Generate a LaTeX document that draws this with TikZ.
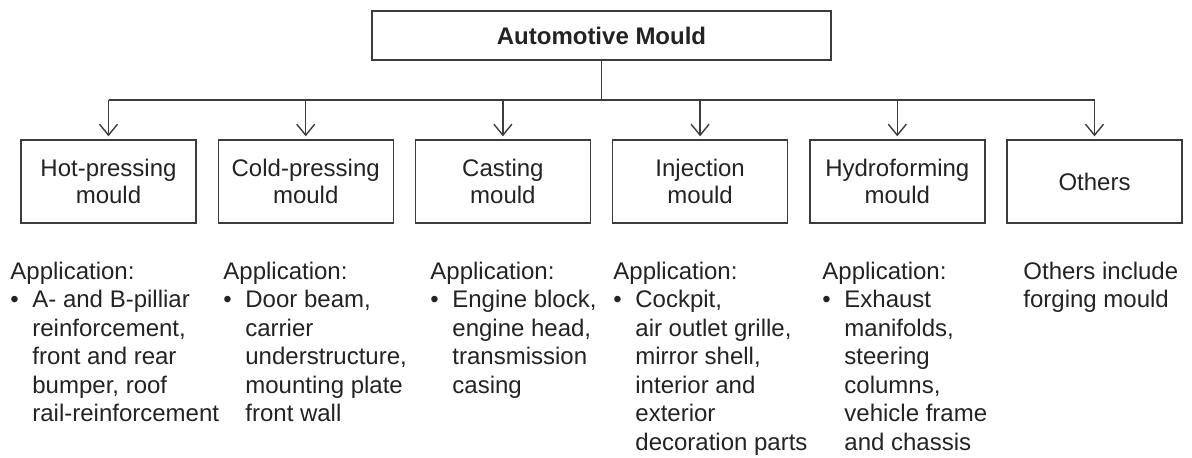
\documentclass[tikz,border=0pt]{standalone}
\usepackage{fontspec}
\setmainfont{Liberation Sans}
\usepackage{tikz}
\usetikzlibrary{positioning,arrows.meta,calc}
\definecolor{linegray}{RGB}{60,60,60}
\definecolor{inkgray}{RGB}{35,35,35}
\newcommand{\appitem}{\makebox[11pt][l]{\textbullet}}
\tikzset{
  basic/.style  = {draw=linegray, line width=0.7pt, rectangle, text=inkgray,
                   align=center, inner sep=0pt, font=\fontsize{12}{13.7}\selectfont},
  root/.style   = {basic, minimum width=229.5pt, minimum height=24.5pt,
                   font=\fontsize{12}{13.7}\selectfont\bfseries},
  mould/.style  = {basic, minimum width=87.5pt, minimum height=41.5pt},
  note/.style   = {anchor=north west, inner sep=0pt, text=inkgray,
                   font=\fontsize{12}{14.25}\selectfont},
  link/.style   = {draw=linegray, line width=0.7pt},
  edge/.style   = {link, -{Straight Barb[length=5.5pt,width=9pt]}, shorten >=1.5pt}
}
\begin{document}
\begin{tikzpicture}[x=0.5pt,y=-0.5pt]
    \useasboundingbox (0,0) rectangle (1192,458);
    \node[root] (auto) at (601.5,35.5) {Automotive Mould};
    \node[mould] (hot)   at (108.5,181.5) {Hot-pressing\\mould};
    \node[mould] (cold)  at (305.7,181.5) {Cold-pressing\\mould};
    \node[mould] (cast)  at (502.9,181.5) {Casting\\mould};
    \node[mould] (inj)   at (700.1,181.5) {Injection\\mould};
    \node[mould] (hydro) at (897.3,181.5) {Hydroforming\\mould};
    \node[mould] (other) at (1094.5,181.5) {Others};
    \coordinate (bus) at (601.5,100);
    \draw[link] (auto.south) -- (bus);
    \draw[link] (hot.north |- bus) -- (other.north |- bus);
    \foreach \m in {hot,cold,cast,inj,hydro,other}
        \draw[edge] (\m.north |- bus) -- (\m.north);
    \node[note] (hotnote) at (10,259) {\begin{tabular}{@{}l@{}l@{}}
        \multicolumn{2}{@{}l@{}}{Application:}\\
        \appitem & A- and B-pilliar\\
        & reinforcement,\\
        & front and rear\\
        & bumper, roof\\
        & rail-reinforcement
    \end{tabular}};
    \node[note] (coldnote) at (223,259) {\begin{tabular}{@{}l@{}l@{}}
        \multicolumn{2}{@{}l@{}}{Application:}\\
        \appitem & Door beam,\\
        & carrier\\
        & understructure,\\
        & mounting plate\\
        & front wall
    \end{tabular}};
    \node[note] (castnote) at (430,259) {\begin{tabular}{@{}l@{}l@{}}
        \multicolumn{2}{@{}l@{}}{Application:}\\
        \appitem & Engine block,\\
        & engine head,\\
        & transmission\\
        & casing
    \end{tabular}};
    \node[note] (injnote) at (613,259) {\begin{tabular}{@{}l@{}l@{}}
        \multicolumn{2}{@{}l@{}}{Application:}\\
        \appitem & Cockpit,\\
        & air outlet grille,\\
        & mirror shell,\\
        & interior and\\
        & exterior\\
        & decoration parts
    \end{tabular}};
    \node[note] (hydronote) at (822,259) {\begin{tabular}{@{}l@{}l@{}}
        \multicolumn{2}{@{}l@{}}{Application:}\\
        \appitem & Exhaust\\
        & manifolds,\\
        & steering\\
        & columns,\\
        & vehicle frame\\
        & and chassis
    \end{tabular}};
    \node[note] (othernote) at (1023,259) {\begin{tabular}{@{}l@{}}
        Others include\\
        forging mould
    \end{tabular}};
\end{tikzpicture}
\end{document}
